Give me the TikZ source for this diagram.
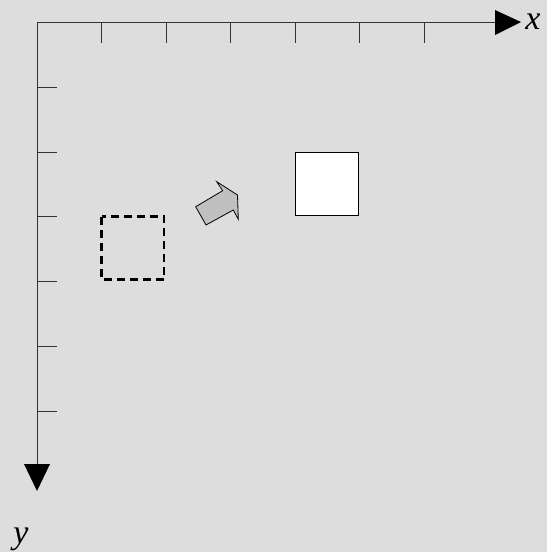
\documentclass[tikz,border=0pt]{standalone}
\usepackage{fontspec}
\setmainfont{Liberation Serif}
\definecolor{bg}{HTML}{DDDDDD}
\definecolor{arrowgray}{HTML}{C0C0C0}
\tikzset{
  axis/.style={line width=1pt, draw=black!80},
  tick/.style={line width=1pt, draw=black!80},
  lbl/.style={font=\itshape\fontsize{34}{34}\selectfont, inner sep=0pt},
  dashbox/.style={draw=black, line width=2.2pt, dash pattern=on 8pt off 5pt, fill=none},
  solidbox/.style={draw=black, line width=1pt, fill=white},
  blockarrow/.style={draw=black, line width=0.8pt, fill=arrowgray, line join=miter}
}
\begin{document}
\begin{tikzpicture}[x=1pt,y=-1pt]
\fill[bg] (0,0) rectangle (547,552);
\useasboundingbox (0,0) rectangle (547,552);
\coordinate (O) at (37,22);
\coordinate (xend) at (496,22);
\coordinate (yend) at (37,465);
\draw[axis] (O) -- (xend);
\draw[axis] (O) -- (yend);
\fill[black] (495,10) -- (521,22) -- (495,35) -- cycle;
\fill[black] (24,464) -- (50,464) -- (37,491) -- cycle;
\node[lbl, anchor=base] (xl) at (533,29) {x};
\node[lbl, anchor=base] (yl) at (21,543) {y};
\foreach \t in {101.5,166,230.5,295,359.5,424}{
  \draw[tick] (\t,22) -- (\t,43);
}
\foreach \t in {87,152,216.5,281,346.5,411.5}{
  \draw[tick] (37,\t) -- (57,\t);
}
\draw[dashbox] (101.5,216.5) rectangle (164,279.5);
\draw[solidbox] (295.5,152.5) rectangle (358,215);
\draw[blockarrow] (195.7,206.7) -- (222.7,190.7) -- (216.7,181.7) -- (237.5,195) -- (238.3,219.3) -- (233.3,210) -- (206,225) -- cycle;
\end{tikzpicture}
\end{document}
